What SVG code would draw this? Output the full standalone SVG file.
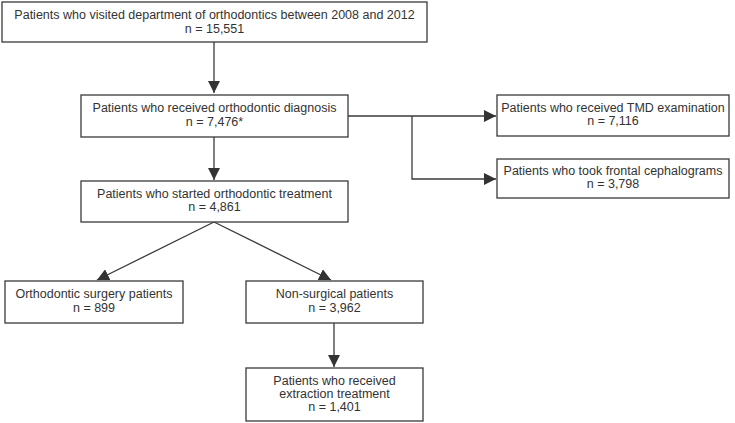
<svg xmlns="http://www.w3.org/2000/svg" width="735" height="423" viewBox="0 0 735 423">
<style>
.box{fill:#fff;stroke:#3a3a3a;stroke-width:1.3}
.t{font-family:"Liberation Sans",Arial,sans-serif;font-size:12.5px;fill:#333;text-anchor:middle}
.c{fill:none;stroke:#3a3a3a;stroke-width:1.3}
</style>
<defs>
<marker id="ah" markerUnits="userSpaceOnUse" markerWidth="12" markerHeight="12" viewBox="0 0 10 10" refX="10" refY="5" orient="auto">
<path d="M0,0 L10,5 L0,10 z" fill="#333"/>
</marker>
</defs>
<rect width="735" height="423" fill="#fff"/>
<g id="connectors">
<line class="c" x1="214" y1="42" x2="214" y2="93" marker-end="url(#ah)"/>
<line class="c" x1="348" y1="116" x2="496" y2="116" marker-end="url(#ah)"/>
<polyline class="c" points="412,116 412,179 496,179" marker-end="url(#ah)"/>
<line class="c" x1="214" y1="137" x2="214" y2="180" marker-end="url(#ah)"/>
<line class="c" x1="214" y1="222" x2="97" y2="280" marker-end="url(#ah)"/>
<line class="c" x1="214" y1="222" x2="331" y2="280" marker-end="url(#ah)"/>
<line class="c" x1="334" y1="323" x2="334" y2="367" marker-end="url(#ah)"/>
</g>
<g id="n1">
<rect class="box" x="2" y="2" width="425" height="40"/>
<text class="t" x="214.5" y="19">Patients who visited department of orthodontics between 2008 and 2012</text>
<text class="t" x="214.5" y="33">n = 15,551</text>
</g>
<g id="n2">
<rect class="box" x="81" y="95" width="267" height="42"/>
<text class="t" x="214.5" y="112">Patients who received orthodontic diagnosis</text>
<text class="t" x="214.5" y="126">n = 7,476*</text>
</g>
<g id="n3">
<rect class="box" x="497" y="95" width="232" height="41"/>
<text class="t" x="613" y="112">Patients who received TMD examination</text>
<text class="t" x="613" y="125">n = 7,116</text>
</g>
<g id="n4">
<rect class="box" x="497" y="159" width="232" height="39"/>
<text class="t" x="613" y="175">Patients who took frontal cephalograms</text>
<text class="t" x="613" y="188">n = 3,798</text>
</g>
<g id="n5">
<rect class="box" x="81" y="181" width="267" height="41"/>
<text class="t" x="214.5" y="198">Patients who started orthodontic treatment</text>
<text class="t" x="214.5" y="211">n = 4,861</text>
</g>
<g id="n6">
<rect class="box" x="5" y="281" width="178" height="42"/>
<text class="t" x="94" y="298">Orthodontic surgery patients</text>
<text class="t" x="94" y="312">n = 899</text>
</g>
<g id="n7">
<rect class="box" x="246" y="281" width="177" height="42"/>
<text class="t" x="334.5" y="298">Non-surgical patients</text>
<text class="t" x="334.5" y="312">n = 3,962</text>
</g>
<g id="n8">
<rect class="box" x="246" y="368" width="177" height="53"/>
<text class="t" x="334.5" y="385">Patients who received</text>
<text class="t" x="334.5" y="398">extraction treatment</text>
<text class="t" x="334.5" y="411">n = 1,401</text>
</g>
</svg>
